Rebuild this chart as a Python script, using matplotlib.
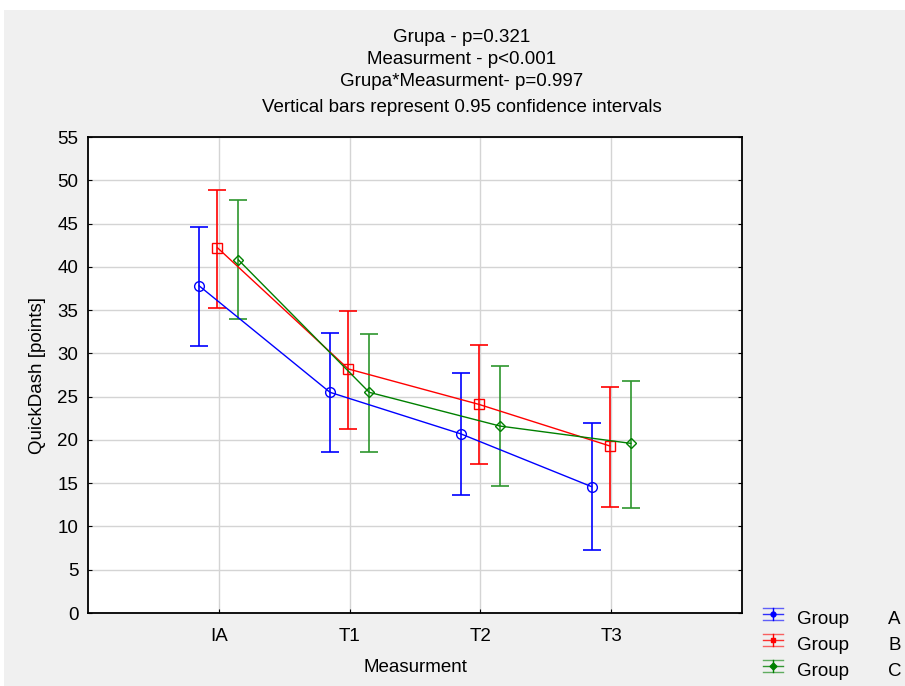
import matplotlib
matplotlib.use("Agg")
import matplotlib.pyplot as plt
import numpy as np
from matplotlib.patches import Rectangle
from matplotlib.lines import Line2D

plt.rcParams['font.family'] = ['Liberation Sans', 'DejaVu Sans']

categories = ["IA", "T1", "T2", "T3"]
groups = ["A", "B", "C"]
means_A = [37.8, 25.5, 20.7, 14.6]
lo_A = [30.9, 18.6, 13.6, 7.3]
hi_A = [44.6, 32.4, 27.7, 21.9]
means_B = [42.2, 28.2, 24.1, 19.3]
lo_B = [35.2, 21.3, 17.2, 12.3]
hi_B = [48.9, 34.9, 31.0, 26.1]
means_C = [40.8, 25.5, 21.6, 19.6]
lo_C = [34.0, 18.6, 14.7, 12.1]
hi_C = [47.7, 32.2, 28.5, 26.8]
yticks = list(range(0, 56, 5))

FS = 13.5
W, H = 905, 686
fig = plt.figure(figsize=(9.05, 6.86), dpi=100, facecolor='white')
fig.patches.append(Rectangle((4/W, 0), 1, 1 - 10/H, transform=fig.transFigure,
                             facecolor='#f0f0f0', edgecolor='none', zorder=-10))
ax = fig.add_axes([88/W, 1 - 613/H, (742-88)/W, (613-137)/H])
ax.set_facecolor('white')

x = np.arange(1, len(categories) + 1)
specs = [
    (means_A, lo_A, hi_A, -0.15, '#0000ff', '#0000ff', 'o'),
    (means_B, lo_B, hi_B, -0.01, '#ff0000', '#ff0000', 's'),
    (means_C, lo_C, hi_C, 0.15, '#008000', '#2e962e', 'D'),
]
for (m, lo, hi, off, col, ecol, mk) in specs:
    m = np.array(m); lo = np.array(lo); hi = np.array(hi)
    xs = x + off
    ax.errorbar(xs, m, yerr=[m - lo, hi - m], fmt='none', ecolor=ecol,
                elinewidth=1.2, capsize=6.5, capthick=1.2, zorder=3)
    ax.plot(xs, m, color=col, lw=1.0, marker=mk, markersize=7 if mk != 'D' else 5.5,
            markerfacecolor='none', markeredgecolor=col, markeredgewidth=1.0, zorder=4)

ax.set_xlim(0, 5)
ax.set_ylim(0, 55)
ax.set_xticks(x)
ax.set_xticklabels(categories)
ax.set_yticks(yticks)
ax.grid(True, color='#d4d4d4', lw=1.0)
ax.set_axisbelow(True)
for s in ax.spines.values():
    s.set_linewidth(1.3)
    s.set_color('black')
ax.tick_params(axis='both', direction='in', length=3, labelsize=FS, pad=7,
               right=True, top=False, colors='black')
ax.tick_params(axis='x', pad=11)
ax.set_xlabel("Measurment", fontsize=FS, labelpad=10)
ax.set_ylabel("QuickDash [points]", fontsize=FS, labelpad=8)

cx = 462 / W
for ty, txt in [(38, "Grupa - p=0.321"), (59, "Measurment - p<0.001"),
                (81, "Grupa*Measurment- p=0.997"),
                (107, "Vertical bars represent 0.95 confidence intervals")]:
    fig.text(cx, 1 - ty/H, txt, ha='center', va='center', fontsize=FS)

# legend (drawn manually in figure pixel coordinates)
leg_cols = [('#0000ff', 'o'), ('#ff0000', 's'), ('#008000', 'D')]
for i, (g, (col, mk)) in enumerate(zip(groups, leg_cols)):
    yc = 614 + 26 * i
    yf = 1 - yc / H
    dy = 6 / H
    x0, x1 = 763 / W, 783 / W
    xm = 773 / W
    for yy in (yf + dy, yf - dy):
        fig.add_artist(Line2D([x0, x1], [yy, yy], color=col, lw=1.0, alpha=0.6,
                              transform=fig.transFigure))
    fig.add_artist(Line2D([x0, x1], [yf, yf], color=col, lw=1.0, alpha=0.8,
                          transform=fig.transFigure))
    fig.add_artist(Line2D([xm, xm], [yf - dy, yf + dy], color=col, lw=1.0,
                          transform=fig.transFigure))
    fig.add_artist(Line2D([xm], [yf], color=col, marker=mk, markersize=3.5,
                          markerfacecolor=col, transform=fig.transFigure))
    yt = 1 - (yc + 5) / H
    fig.text(797 / W, yt, "Group", ha='left', va='center', fontsize=FS)
    fig.text(888 / W, yt, g, ha='left', va='center', fontsize=FS)

fig.savefig("out.png", dpi=100, facecolor=fig.get_facecolor())
